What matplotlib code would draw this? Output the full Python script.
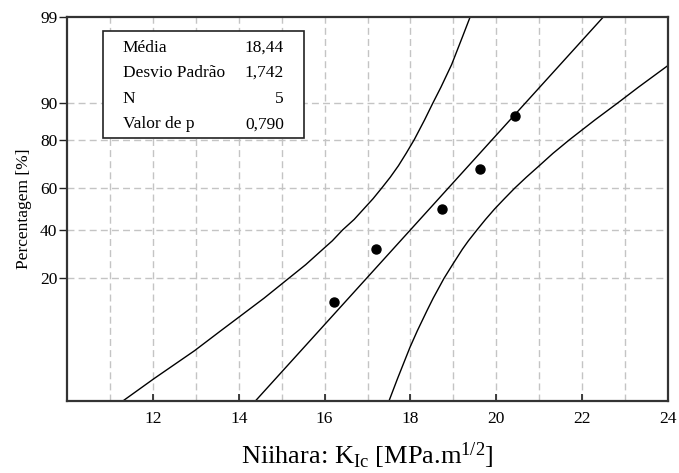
import numpy as np
import matplotlib
matplotlib.use("Agg")
import matplotlib.pyplot as plt
from matplotlib.patches import Rectangle
from statistics import NormalDist

plt.rcParams["font.family"] = ["Liberation Serif", "DejaVu Serif"]
plt.rcParams["mathtext.fontset"] = "custom"
plt.rcParams["mathtext.rm"] = "Liberation Serif"
plt.rcParams["mathtext.it"] = "Liberation Serif:italic"

# Fracture toughness measurements and their plotting positions (%)
kic_values = [16.21, 17.20, 18.74, 19.63, 20.44]
kic_percent = [12.96, 31.48, 50.0, 68.52, 87.04]

# Summary statistics
mean_kic = 18.44
std_kic = 1.742
n_samples = 5
p_value = "0,790"

# Fitted normal line, drawn over the full probability range
fit_percent = [1.0, 99.0]

# 95% confidence band (lower / upper)
lower_x = [11.30, 12.03, 12.97, 13.58, 14.04, 14.59, 15.16, 15.56, 15.96, 16.18,
           16.42, 16.69, 16.91, 17.13, 17.33, 17.53, 17.72, 17.90, 18.09, 18.33,
           18.52, 18.71, 18.96, 19.22, 19.39]
lower_p = [1.0, 2.0, 4.3, 7.0, 9.75, 14.0, 20.0, 25.0, 31.3, 35.0,
           40.0, 45.0, 50.0, 55.0, 60.0, 65.0, 70.0, 75.0, 80.0, 86.0,
           90.0, 93.0, 96.0, 98.2, 99.0]
upper_x = [17.50, 17.70, 17.99, 18.16, 18.39, 18.53, 18.78, 18.98, 19.21, 19.35,
           19.55, 19.75, 19.96, 20.19, 20.43, 20.70, 21.00, 21.32, 21.71, 22.30,
           22.82, 23.31, 24.00]
upper_p = [1.0, 2.0, 4.7, 7.0, 11.0, 14.0, 20.0, 25.0, 31.3, 35.0,
           40.0, 45.0, 50.0, 55.0, 60.0, 65.0, 70.0, 75.0, 80.0, 86.0,
           90.0, 93.0, 95.9]

y_ticks = [20, 40, 60, 80, 90, 99]
y_grid = [20, 40, 60, 80, 90]
x_ticks = [12, 14, 16, 18, 20, 22, 24]
x_grid = list(range(11, 24))

_nd = NormalDist()
_ppf = np.vectorize(_nd.inv_cdf, otypes=[float])
_cdf = np.vectorize(_nd.cdf, otypes=[float])


def prob_forward(p):
    p = np.clip(np.asarray(p, dtype=float) / 100.0, 1e-9, 1 - 1e-9)
    return _ppf(p)


def prob_inverse(z):
    return _cdf(np.asarray(z, dtype=float)) * 100.0


fig = plt.figure(figsize=(6.79, 4.73), dpi=100)
ax = fig.add_axes([0.0987, 0.1522, 0.8851, 0.8118])
ax.set_yscale("function", functions=(prob_forward, prob_inverse))
ax.set_xlim(10, 24)
ax.set_ylim(1, 99)

grid_kw = dict(color="#c4c4c4", lw=1.0, ls=(0, (5, 3)), zorder=0)
for gx in x_grid:
    ax.axvline(gx, **grid_kw)
for gy in y_grid:
    ax.axhline(gy, **grid_kw)

z_fit = prob_forward(fit_percent)
fit_x = mean_kic + std_kic * z_fit
line_kw = dict(color="black", lw=1.0, zorder=2, solid_joinstyle="round")
ax.plot(fit_x, fit_percent, **line_kw)
ax.plot(lower_x, lower_p, **line_kw)
ax.plot(upper_x, upper_p, **line_kw)
ax.plot(kic_values, kic_percent, "o", color="black", ms=6.5, zorder=3)

ax.set_xticks(x_ticks)
ax.set_yticks(y_ticks)
ax.set_yticklabels([str(t) for t in y_ticks])
ax.yaxis.set_minor_locator(matplotlib.ticker.NullLocator())
ax.tick_params(axis="x", direction="in", length=5, width=1.2, labelsize=12.5, pad=7, color="#222222")
ax.tick_params(axis="y", direction="out", length=6, width=1.0, labelsize=12.5, pad=1, color="#222222")

for sp in ax.spines.values():
    sp.set_color("#333333")
    sp.set_linewidth(1.6)

ax.set_xlabel(r"Niihara: K$_{\mathrm{Ic}}$ [MPa.m$^{\mathrm{1/2}}$]", fontsize=19, labelpad=10)
ax.set_ylabel("Percentagem [%]", fontsize=12.5, labelpad=6)

# statistics box
ax.add_patch(Rectangle((0.060, 0.685), 0.334, 0.279, transform=ax.transAxes,
                       facecolor="white", edgecolor="#222222", lw=1.2, zorder=4))
rows = [("Média", f"{mean_kic:.2f}".replace(".", ",")),
        ("Desvio Padrão", f"{std_kic:.3f}".replace(".", ",")),
        ("N", str(n_samples)),
        ("Valor de p", p_value)]
row_y = [0.919, 0.854, 0.786, 0.721]
for (lab, val), yy in zip(rows, row_y):
    ax.text(0.093, yy, lab, transform=ax.transAxes, fontsize=12.5, va="center", ha="left", zorder=5)
    ax.text(0.361, yy, val, transform=ax.transAxes, fontsize=12.5, va="center", ha="right", zorder=5)

fig.savefig("out.png", dpi=100)
